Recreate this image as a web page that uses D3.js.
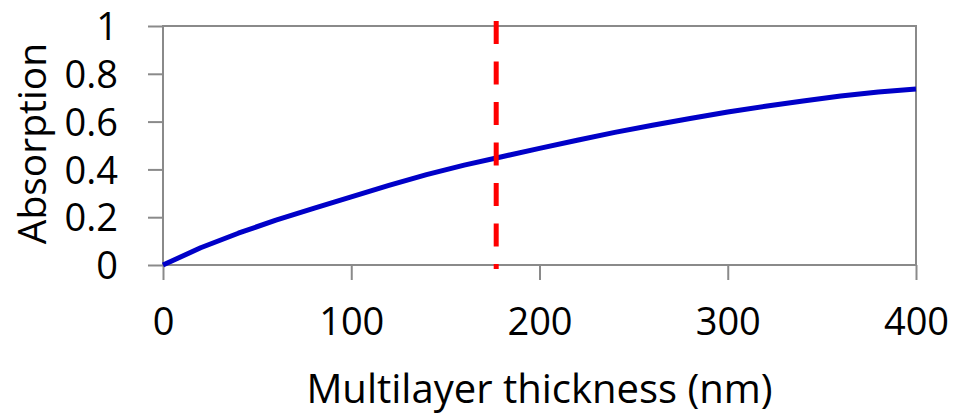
<!DOCTYPE html>
<html>
<head>
<meta charset="utf-8">
<script src="https://cdn.jsdelivr.net/npm/d3@7"></script>
<style>
  body { margin: 0; background: #fff; }
  text { font-family: "Open Sans", "Noto Sans", sans-serif; fill: #000; }
</style>
</head>
<body>
<div id="wrapper"></div>
<script>
// thickness in nm, absorption
const thickness = [0, 20, 40, 60, 80, 100, 120, 140, 160, 180, 200, 220, 240, 260, 280, 300, 320, 340, 360, 380, 400];
const absorption = [0, 0.072, 0.133, 0.188, 0.237, 0.285, 0.333, 0.378, 0.418, 0.453, 0.488, 0.522, 0.555, 0.585, 0.613, 0.64, 0.664, 0.686, 0.707, 0.724, 0.736];
const markerThickness = [177];
const xTicks = [0, 100, 200, 300, 400];
const yTicks = [0, 0.2, 0.4, 0.6, 0.8, 1];

const dimensions = {
    width: 953,
    height: 416,
    margin: { top: 26, right: 37, bottom: 151, left: 163 }
};
dimensions.boundedW = dimensions.width - dimensions.margin.left - dimensions.margin.right;
dimensions.boundedH = dimensions.height - dimensions.margin.top - dimensions.margin.bottom;

const svg = d3.select('#wrapper')
    .append('svg')
    .attr('width', dimensions.width)
    .attr('height', dimensions.height);

const bounds = svg.append('g')
    .attr('transform', `translate(${dimensions.margin.left},${dimensions.margin.top})`);

const x = d3.scaleLinear().domain([0, 400]).range([0, dimensions.boundedW]);
const y = d3.scaleLinear().domain([0, 1]).range([dimensions.boundedH, 0]);

const axisColor = '#8a8a8a';

// axes
const xAxis = bounds.append('g')
    .attr('transform', `translate(0,${dimensions.boundedH})`)
    .call(d3.axisBottom(x).tickValues(xTicks).tickSize(15).tickPadding(28).tickFormat(d3.format('d')));
const yAxis = bounds.append('g')
    .call(d3.axisLeft(y).tickValues(yTicks).tickSize(15).tickPadding(30).tickFormat(d => d === 0 || d === 1 ? d : d3.format('.1f')(d)));

[xAxis, yAxis].forEach(a => {
    a.select('.domain').remove();
    a.selectAll('line').attr('stroke', axisColor).attr('stroke-width', 2);
    a.selectAll('text').attr('font-size', 38).attr('fill', '#000')
        .style('font-family', '"Open Sans", sans-serif');
});
yAxis.selectAll('text').attr('dy', '0.36em');

// plot frame
bounds.append('rect')
    .attr('x', 0).attr('y', 0)
    .attr('width', dimensions.boundedW)
    .attr('height', dimensions.boundedH)
    .attr('fill', 'none')
    .attr('stroke', axisColor)
    .attr('stroke-width', 2);

// curve
const line = d3.line()
    .x((d, i) => x(thickness[i]))
    .y(d => y(d));

bounds.append('path')
    .datum(absorption)
    .attr('fill', 'none')
    .attr('stroke', '#0000c8')
    .attr('stroke-width', 5)
    .attr('stroke-linejoin', 'round')
    .attr('d', line);

// red dashed marker
bounds.selectAll('.marker')
    .data(markerThickness)
    .enter()
    .append('line')
    .attr('class', 'marker')
    .attr('x1', d => x(d))
    .attr('x2', d => x(d))
    .attr('y1', y(1) - 5)
    .attr('y2', y(0) + 4)
    .attr('stroke', '#ff0000')
    .attr('stroke-width', 5)
    .attr('stroke-dasharray', '23,17.5');

// axis titles
svg.append('text')
    .attr('x', dimensions.margin.left + dimensions.boundedW / 2)
    .attr('y', 403)
    .attr('text-anchor', 'middle')
    .attr('font-size', 40)
    .text('Multilayer thickness (nm)');

svg.append('text')
    .attr('transform', `translate(46,${dimensions.margin.top + dimensions.boundedH / 2 - 2}) rotate(-90)`)
    .attr('text-anchor', 'middle')
    .attr('font-size', 39)
    .text('Absorption');
</script>
</body>
</html>
